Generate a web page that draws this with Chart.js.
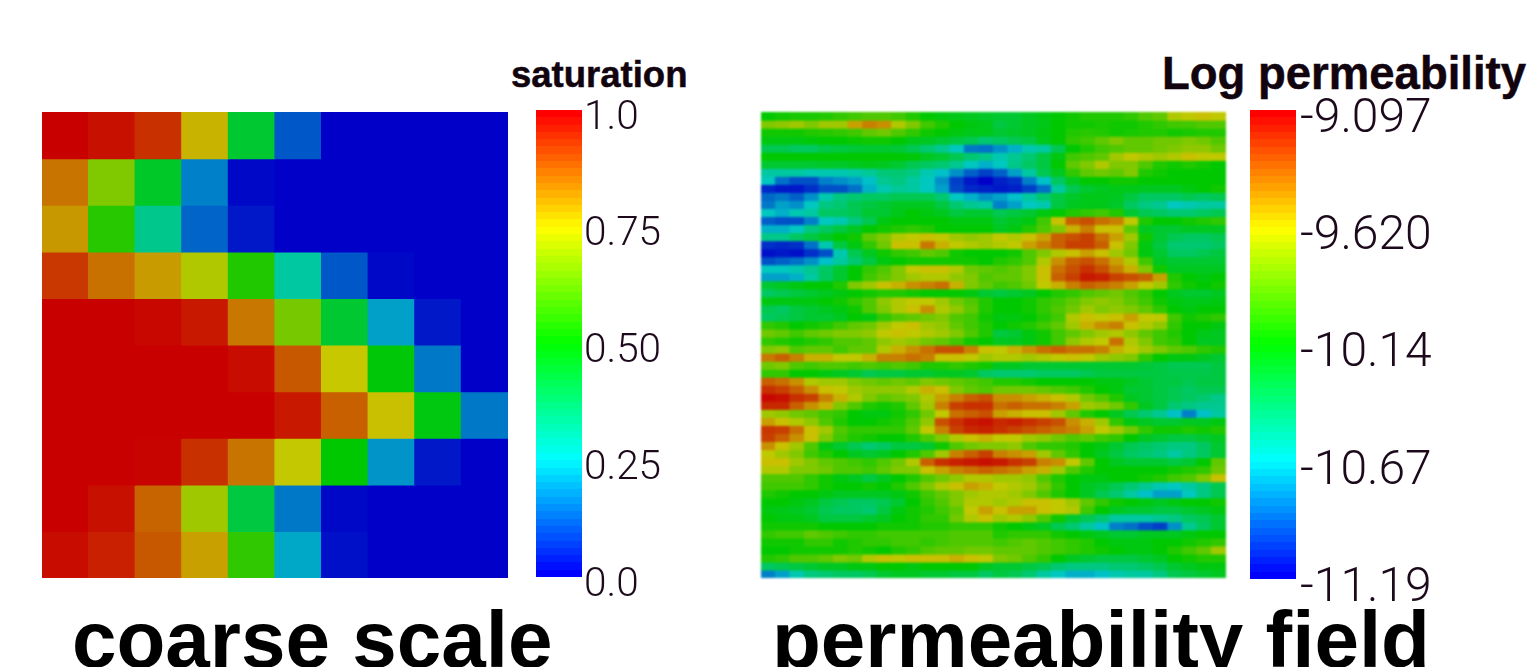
<!DOCTYPE html>
<html>
<head>
<meta charset="utf-8">
<title>coarse scale / permeability field</title>
<script src="https://cdn.jsdelivr.net/npm/chart.js@4/dist/chart.umd.min.js"></script>
<style>
  html, body { margin: 0; background: #fff; }
  body { position: relative; width: 1534px; height: 667px; overflow: hidden; }
  canvas { position: absolute; }
  #permeability-field { filter: blur(0.8px); }
  .bar-title, .caption { position: absolute; white-space: nowrap; font-family: "Liberation Sans", sans-serif; font-weight: bold; line-height: 1; color: #000; }
  .bar-title { color: #12040f; -webkit-text-stroke: 0.5px #12040f; }
  .caption { font-size: 80px; top: 600px; }
</style>
</head>
<body>
<div class="bar-title" style="left:511px;top:57px;font-size:36.5px">saturation</div>
<div class="bar-title" style="left:1162px;top:51px;font-size:45.5px">Log permeability</div>
<div class="caption" style="left:72px">coarse scale</div>
<div class="caption" style="left:772px">permeability field</div>

<canvas id="saturation-field" width="466" height="466" style="left:42px;top:112px"></canvas>
<canvas id="saturation-bar" width="200" height="540" style="left:536px;top:80px"></canvas>
<canvas id="permeability-field" width="465" height="466" style="left:761px;top:112px"></canvas>
<canvas id="permeability-bar" width="250" height="546" style="left:1250px;top:74px"></canvas>

<script>
// Saturation per coarse cell, top row first
const saturationRows = [
  [1.0, 0.98, 0.94, 0.775, 0.44, 0.11, 0, 0, 0, 0],
  [0.855, 0.66, 0.45, 0.16, 0.01, 0, 0, 0, 0, 0],
  [0.81, 0.55, 0.325, 0.125, 0.03, 0, 0, 0, 0, 0],
  [0.93, 0.86, 0.805, 0.72, 0.54, 0.3, 0.11, 0.01, 0, 0],
  [1.0, 1.0, 0.99, 0.97, 0.85, 0.65, 0.44, 0.2, 0.03, 0],
  [1.0, 1.0, 1.0, 1.0, 0.985, 0.89, 0.75, 0.49, 0.15, 0],
  [1.0, 1.0, 1.0, 1.0, 1.0, 0.97, 0.88, 0.76, 0.48, 0.15],
  [1.0, 1.0, 0.995, 0.94, 0.855, 0.745, 0.5, 0.185, 0.03, 0],
  [1.0, 0.98, 0.875, 0.7, 0.42, 0.15, 0.01, 0, 0, 0],
  [0.985, 0.96, 0.89, 0.8, 0.56, 0.21, 0.02, 0, 0, 0],
];

const permeabilityRows = [
  [50,52,53,53,54,56,58,60,60,58,54,50,48,47,46,45,44,44,46,48,50,52,54,54,54,56,60,62,72,74,76,74],
  [66,68,70,66,70,70,80,84,82,72,66,58,54,50,48,47,42,44,46,47,50,52,52,53,52,52,54,56,58,58,60,60],
  [52,52,52,54,55,56,58,62,64,60,56,52,50,48,47,47,44,45,46,48,50,54,55,54,52,53,54,54,52,53,54,54],
  [48,48,48,49,50,50,51,52,52,50,47,46,44,42,40,36,38,40,42,47,50,56,58,62,66,62,62,64,64,66,64,60],
  [40,40,38,38,41,42,43,44,44,43,40,36,32,26,15,14,18,22,28,30,40,50,54,58,60,62,62,64,66,68,68,64],
  [50,50,50,50,50,50,50,50,50,50,49,46,44,40,36,33,28,32,36,42,48,58,60,62,70,74,72,70,72,76,74,74],
  [44,44,44,44,45,45,46,47,46,44,40,38,36,32,26,22,26,33,38,42,50,62,66,72,66,66,60,54,52,54,52,50],
  [30,30,30,28,28,28,29,31,35,36,34,28,24,18,12,8,12,20,30,40,46,56,62,64,62,66,54,52,50,50,50,50],
  [26,14,10,10,16,18,20,24,32,34,30,26,18,8,3,0,4,6,16,24,38,46,50,50,52,52,50,50,50,50,50,50],
  [5,3,3,6,10,10,14,22,28,31,30,26,20,9,5,4,3,4,8,14,30,40,44,46,47,47,46,46,46,48,50,52],
  [13,15,12,18,28,34,36,38,38,40,40,40,36,26,22,18,20,24,30,36,42,45,47,47,46,42,38,38,38,40,38,40],
  [15,20,18,26,34,36,40,42,44,46,46,46,42,36,32,30,16,20,26,28,42,46,47,47,45,38,34,32,26,28,30,30],
  [26,22,28,30,38,38,40,44,44,47,50,48,46,42,44,44,40,42,44,48,50,54,56,58,54,44,40,38,36,36,38,40],
  [12,10,10,16,26,28,34,40,48,50,50,50,50,48,48,48,44,46,48,58,76,88,90,86,84,74,54,50,50,52,54,56],
  [22,22,26,34,38,42,46,50,52,54,56,54,50,50,50,50,46,48,54,60,66,78,84,76,76,62,46,44,44,46,46,46],
  [33,33,38,42,46,50,52,62,66,72,74,76,74,70,68,70,74,72,76,80,88,90,92,86,80,70,52,44,40,38,38,40],
  [6,5,6,14,28,42,48,56,64,76,76,85,78,74,72,70,72,74,80,84,88,92,92,88,76,66,48,42,36,36,36,38],
  [2,3,2,6,10,28,40,46,52,56,58,62,60,52,50,50,50,52,60,66,72,76,80,76,70,64,48,44,38,38,40,42],
  [10,12,14,18,24,30,36,42,48,50,52,52,52,52,52,50,54,56,60,72,82,88,90,86,80,72,58,46,44,44,44,44],
  [26,26,28,32,38,44,50,56,60,66,74,76,76,72,64,62,60,62,66,76,86,90,94,90,84,78,66,52,46,46,46,46],
  [20,20,22,30,38,44,50,58,62,66,70,72,72,68,66,60,62,62,66,76,88,92,97,96,92,90,88,80,54,50,48,50],
  [44,46,48,50,50,54,66,70,76,78,82,84,86,78,66,62,58,60,64,74,78,84,88,86,84,80,74,70,56,52,50,52],
  [38,40,42,44,46,48,50,52,54,54,52,50,50,50,48,44,42,44,46,50,54,56,60,62,64,60,56,50,46,44,44,46],
  [48,48,48,48,50,52,56,60,68,72,74,74,70,64,60,54,50,50,52,56,58,62,66,68,66,62,58,52,48,47,47,48],
  [40,38,42,44,46,48,52,60,66,72,76,82,72,68,62,54,50,50,52,56,60,64,70,66,68,66,62,56,50,48,50,50],
  [38,40,42,44,44,46,50,48,56,60,62,64,66,60,58,52,48,48,50,54,58,72,76,74,76,80,74,74,58,52,54,56],
  [56,54,50,52,54,58,62,64,70,74,76,70,68,62,58,54,50,52,54,58,62,70,78,82,84,76,72,68,56,50,50,48],
  [64,62,58,62,64,66,66,68,74,76,74,72,70,66,60,54,42,44,48,52,58,62,66,70,72,68,62,58,54,50,47,46],
  [56,54,52,54,56,60,60,62,68,70,68,64,62,58,52,50,46,46,48,52,58,68,72,74,86,72,66,58,56,50,46,46],
  [66,68,60,62,62,58,62,62,72,78,82,86,90,90,84,76,74,78,82,86,88,86,86,84,78,74,70,66,62,60,56,54],
  [85,88,84,78,78,74,74,78,84,84,86,84,76,76,74,70,72,72,70,72,74,76,74,70,68,66,56,50,48,48,46,44],
  [64,66,60,58,60,60,58,60,58,60,58,54,54,56,54,52,46,46,44,44,44,44,44,44,44,44,43,42,40,40,40,42],
  [56,56,50,50,48,46,44,40,42,42,44,44,46,46,44,38,36,36,36,38,38,38,40,42,42,42,42,42,41,41,41,42],
  [88,86,82,72,70,70,66,64,62,64,62,66,64,62,60,58,54,54,52,50,50,50,50,48,48,46,44,42,42,40,42,42],
  [94,92,88,82,76,74,70,68,68,68,72,78,76,66,62,60,64,64,64,62,60,58,54,50,48,44,44,42,40,38,40,40],
  [99,98,94,92,84,78,72,66,62,64,66,72,80,84,88,90,82,82,80,78,76,72,64,60,54,46,44,42,40,38,36,33],
  [95,95,88,82,78,66,60,54,52,54,62,70,84,92,94,94,86,88,86,86,84,80,70,68,64,56,46,42,36,34,32,32],
  [70,68,64,62,58,56,50,48,48,52,56,64,74,86,88,90,80,78,76,76,70,62,54,50,46,40,36,32,24,16,24,30],
  [80,76,72,68,60,54,50,50,52,54,60,68,90,94,97,98,95,96,94,92,90,82,78,70,56,48,46,44,44,46,46,48],
  [93,92,86,76,70,60,56,56,56,56,62,74,84,92,95,96,94,92,90,88,86,84,80,74,70,64,56,52,52,54,52,54],
  [92,88,82,76,66,58,54,52,50,50,54,60,66,72,76,78,74,74,70,68,64,60,62,58,56,50,46,44,42,42,44,46],
  [82,76,70,60,48,44,40,36,38,42,42,44,52,60,64,66,66,68,60,56,56,54,50,48,44,40,38,36,34,34,38,44],
  [74,70,66,58,54,50,46,44,46,50,54,60,70,84,88,92,84,82,80,70,62,56,50,46,42,38,36,34,30,34,38,44],
  [76,76,70,66,62,60,58,56,60,64,72,88,94,96,97,98,97,94,92,84,82,74,62,50,46,44,44,44,42,44,50,62],
  [72,72,66,66,64,60,60,58,62,66,66,76,80,84,86,88,86,84,80,78,70,60,54,50,50,50,50,50,52,54,56,64],
  [60,60,60,56,52,48,46,42,46,50,54,60,64,68,72,72,70,70,68,60,54,50,48,48,50,50,52,54,58,60,66,76],
  [58,58,58,56,52,50,50,52,50,54,60,66,72,76,80,78,74,72,70,64,56,50,46,44,40,36,32,28,26,30,34,40],
  [54,52,50,50,48,46,46,46,46,48,52,58,62,66,70,72,72,70,66,60,54,50,46,40,36,30,24,20,20,26,34,40],
  [50,50,48,46,42,40,38,38,40,44,50,56,60,66,72,72,70,72,76,76,74,70,62,56,52,50,48,46,48,50,50,52],
  [48,47,46,44,40,38,38,36,42,48,52,54,58,62,74,80,76,80,80,76,74,72,58,50,46,44,44,42,42,44,46,48],
  [50,48,48,46,42,42,42,44,46,50,52,56,56,64,72,76,70,72,68,60,52,44,40,36,30,30,30,32,34,38,40,44],
  [52,52,52,52,50,50,50,50,52,52,52,54,54,56,56,56,52,50,48,46,40,36,30,24,16,14,10,8,18,32,38,44],
  [56,58,58,62,60,58,56,56,58,58,58,58,58,60,60,60,54,56,56,56,52,50,48,46,44,44,46,46,46,48,50,50],
  [52,52,52,56,56,52,54,56,56,58,58,56,58,60,60,60,58,60,62,60,58,56,54,50,48,48,48,50,50,52,54,56],
  [50,50,52,52,52,52,54,52,50,54,56,60,62,62,64,64,62,62,62,60,58,56,54,52,50,48,48,50,54,58,62,70],
  [54,56,60,60,62,66,64,72,76,74,76,76,76,78,76,74,66,64,60,56,50,46,44,42,42,42,44,46,50,52,54,54],
  [38,40,42,44,46,46,48,48,50,50,48,50,50,50,50,46,44,44,42,40,36,34,34,34,36,36,38,40,44,46,48,48],
  [16,20,28,34,36,38,38,40,44,46,46,44,44,42,42,38,42,40,36,30,26,22,22,24,28,30,30,34,40,42,44,46],
];

const saturationTicks = [0, 0.25, 0.5, 0.75, 1];
const saturationLabels = ["0.0", "0.25", "0.50", "0.75", "1.0"];
const permeabilityTicks = [-11.19, -10.67, -10.14, -9.62, -9.097];
const permeabilityLabels = ["-11.19", "-10.67", "-10.14", "-9.620", "-9.097"];

const bands = 64;
const shade = 200 / 255; // the field is a bit darker than its colour bar

// Rainbow table: blue, cyan, green, yellow, red
function rainbow(v, k) {
  const t = Math.min(Math.max(v, 0), 1) * 4;
  let c;
  if (t < 1) c = [0, t, 1];
  else if (t < 2) c = [0, 1, 2 - t];
  else if (t < 3) c = [t - 2, 1, 0];
  else c = [1, 4 - t, 0];
  return "rgb(" + c.map((x) => Math.round(x * 255 * k)).join(",") + ")";
}

// A field is a stacked bar chart: one dataset per row, one category per column
function drawField(id, rows) {
  return new Chart(document.getElementById(id), {
    type: "bar",
    data: {
      labels: rows[0].map((_, i) => i),
      datasets: rows.map((row) => ({
        data: row.map(() => 1),
        backgroundColor: row.map((v) => rainbow(v, shade)),
        borderWidth: 0,
        inflateAmount: 0.6,
        barPercentage: 1,
        categoryPercentage: 1,
      })),
    },
    options: {
      responsive: false,
      animation: false,
      layout: { padding: 0 },
      plugins: { legend: { display: false }, tooltip: { enabled: false } },
      scales: {
        x: { stacked: true, display: false },
        y: { stacked: true, display: false, reverse: true, min: 0, max: rows.length },
      },
    },
  });
}

// Colour bar is one floating bar with a stepped gradient, ticks come from the y scale
function drawColorBar(id, ticks, labels, barTop, barBottom, fontSize, tickPad, labelOffset, axisWidth) {
  const lo = ticks[0];
  const hi = ticks[ticks.length - 1];
  return new Chart(document.getElementById(id), {
    type: "bar",
    data: {
      labels: [""],
      datasets: [
        {
          data: [[lo, hi]],
          barPercentage: 1,
          categoryPercentage: 1,
          borderWidth: 0,
          backgroundColor: (ctx) => {
            const area = ctx.chart.chartArea;
            if (!area) return "#00f";
            const g = ctx.chart.ctx.createLinearGradient(0, area.bottom, 0, area.top);
            for (let i = 0; i < bands; i++) {
              const col = rainbow(i / (bands - 1), 1);
              g.addColorStop(i / bands, col);
              g.addColorStop((i + 1) / bands, col);
            }
            return g;
          },
        },
      ],
    },
    options: {
      responsive: false,
      animation: false,
      layout: { padding: { top: barTop, bottom: barBottom } },
      plugins: { legend: { display: false }, tooltip: { enabled: false } },
      scales: {
        x: { display: false },
        y: {
          position: "right",
          min: lo,
          max: hi,
          grid: { display: false, drawTicks: false },
          border: { display: false },
          afterBuildTicks: (scale) => {
            scale.ticks = ticks.map((value) => ({ value }));
          },
          afterFit: (scale) => {
            scale.width = axisWidth;
          },
          ticks: {
            autoSkip: false,
            padding: tickPad,
            labelOffset: labelOffset,
            color: "#1c0a1c",
            font: { family: "Roboto", size: fontSize, weight: "300" },
            callback: (value, i) => labels[i],
          },
        },
      },
    },
  });
}

drawField("saturation-field", saturationRows);
drawField("permeability-field", permeabilityRows.map((row) => row.map((p) => p / 100)));
drawColorBar("saturation-bar", saturationTicks, saturationLabels, 30, 43, 40.5, 2, 8.5, 154);
drawColorBar("permeability-bar", permeabilityTicks, permeabilityLabels, 36, 41, 48, 4, 10, 204);
</script>
</body>
</html>
